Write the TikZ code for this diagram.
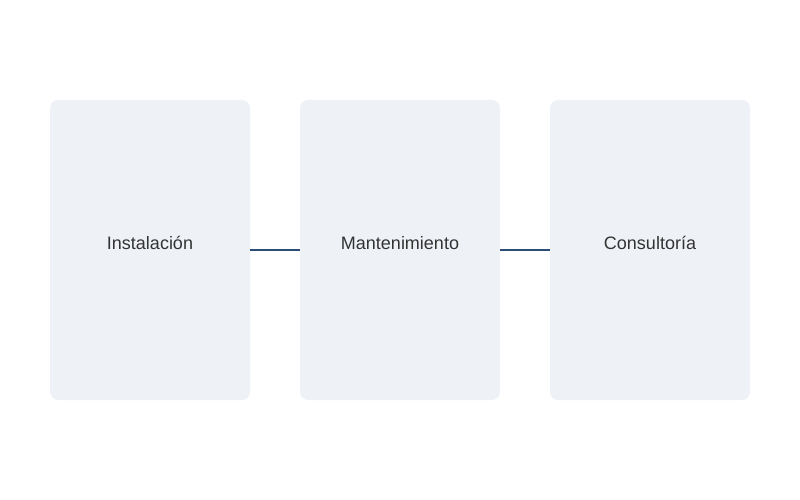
\documentclass[tikz,border=0pt]{standalone}
\usepackage{fontspec}
\setmainfont{Liberation Sans}
\usetikzlibrary{positioning}

\definecolor{cardfill}{HTML}{EEF2F7}
\definecolor{linkblue}{HTML}{2B4C74}
\definecolor{labelgray}{HTML}{333333}

\begin{document}
\begin{tikzpicture}[x=1pt,y=1pt,
    card/.style={rectangle,rounded corners=8pt,fill=cardfill,minimum width=200pt,minimum height=300pt,inner sep=0pt,outer sep=0pt},
    cardlabel/.style={font=\fontsize{18}{20}\selectfont,text=labelgray,inner sep=0pt},
    link/.style={draw=linkblue,line width=2pt}]
    \useasboundingbox (0,0) rectangle (800,-500);

    \node[card] (inst) at (150,-250) {};
    \node[card, right=50pt of inst] (mant) {};
    \node[card, right=50pt of mant] (cons) {};

    \node[cardlabel] (instlabel) at ([yshift=7pt]inst.center) {Instalación};
    \node[cardlabel] (mantlabel) at ([yshift=7pt]mant.center) {Mantenimiento};
    \node[cardlabel] (conslabel) at ([yshift=7pt]cons.center) {Consultoría};

    \draw[link] (inst.east) -- (mant.west);
    \draw[link] (mant.east) -- (cons.west);

\end{tikzpicture}
\end{document}
